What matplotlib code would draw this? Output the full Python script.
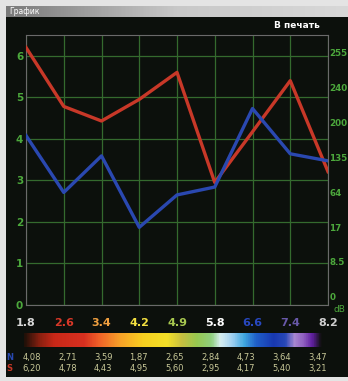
import matplotlib
matplotlib.use("Agg")
import matplotlib.pyplot as plt
import numpy as np
from matplotlib.colors import LinearSegmentedColormap
from matplotlib.patches import Rectangle

# data
x_labels = ["1.8", "2.6", "3.4", "4.2", "4.9", "5.8", "6.6", "7.4", "8.2"]
n_vals = [4.08, 2.71, 3.59, 1.87, 2.65, 2.84, 4.73, 3.64, 3.47]
s_vals = [6.20, 4.78, 4.43, 4.95, 5.60, 2.95, 4.17, 5.40, 3.21]
left_ticks = [0, 1, 2, 3, 4, 5, 6]
db_labels = ["0", "8.5", "17", "64", "135", "200", "240", "255"]

label_colors = ["#d8d8d8", "#d83828", "#f0a040", "#f4e040", "#a8c850",
                "#ffffff", "#2848c0", "#6858a8", "#d0d0d0"]

W, H = 348, 381
fig = plt.figure(figsize=(W / 100, H / 100), dpi=100, facecolor="#e4e4e4")

def box(x0, y0, x1, y1):
    # pixel box -> figure fraction [left, bottom, width, height]
    return [x0 / W, 1 - y1 / H, (x1 - x0) / W, (y1 - y0) / H]

# window frame
b = box(6, 17, 348, 377)
fig.patches.append(Rectangle((b[0], b[1]), b[2], b[3], transform=fig.transFigure,
                             facecolor="#0c100c", edgecolor="none", zorder=-10))
tb = fig.add_axes(box(6, 6, 348, 17))
tb.imshow(np.linspace(0, 1, 200)[None, :], aspect="auto",
          cmap=LinearSegmentedColormap.from_list("t", ["#7a7a7a", "#c8c8c8", "#d8d8d8"]))
tb.axis("off")
fig.text(9 / W, 1 - 12 / H, "График", color="white", fontsize=5.5, va="center")
fig.text(297 / W, 1 - 26 / H, "В печать", color="white", fontsize=6.5,
         fontweight="bold", va="center", ha="center")

# main plot
ax = fig.add_axes(box(26, 35, 328, 305))
ax.set_facecolor("#0c100c")
xs = np.arange(len(x_labels))
ax.plot(xs, s_vals, color="#c83828", lw=2.4, zorder=3)
ax.plot(xs, n_vals, color="#2a48b0", lw=2.4, zorder=3)
ax.set_xlim(0, 8)
ax.set_ylim(0, 6.5)
ax.set_xticks(xs)
ax.set_xticklabels(x_labels, fontsize=8, fontweight="bold")
for lab, c in zip(ax.get_xticklabels(), label_colors):
    lab.set_color(c)
ax.set_yticks(left_ticks)
ax.set_yticklabels([str(t) for t in left_ticks], color="#4ca83c", fontsize=7.5,
                   fontweight="bold")
ax.tick_params(axis="x", length=0, pad=9)
ax.tick_params(axis="y", length=0, pad=2)
ax.grid(True, color="#346a2e", lw=0.9)
for sp in ax.spines.values():
    sp.set_color("#6a6a6a")
    sp.set_linewidth(0.8)

ax2 = ax.twinx()
ax2.set_ylim(-0.23, 7.49)
ax2.set_yticks(range(len(db_labels)))
ax2.set_yticklabels(db_labels, color="#4ca83c", fontsize=6.3, fontweight="bold")
ax2.tick_params(axis="y", length=0, pad=1)
for sp in ax2.spines.values():
    sp.set_visible(False)
fig.text(334 / W, 1 - 309 / H, "dB", color="#4ca83c", fontsize=6.5, va="center")

# colour strip
cmap = LinearSegmentedColormap.from_list("strip", [
    (0.00, "#201008"), (0.05, "#8a2010"), (0.10, "#c82818"), (0.20, "#d83020"),
    (0.25, "#f06028"), (0.32, "#f8a028"), (0.40, "#f8d020"), (0.48, "#f4e028"),
    (0.53, "#c8c040"), (0.58, "#98c850"), (0.63, "#90d080"), (0.66, "#d8eef0"),
    (0.70, "#a0d0f0"), (0.74, "#40a8e0"), (0.78, "#2060c8"), (0.84, "#1838b0"),
    (0.88, "#2848b8"), (0.91, "#a888d0"), (0.94, "#9060c0"), (0.97, "#6020a0"),
    (1.00, "#101010")])
cb = fig.add_axes(box(24, 333, 322, 347))
cb.imshow(np.linspace(0, 1, 400)[None, :], aspect="auto", cmap=cmap)
cb.axis("off")

# value rows
tx = fig.add_axes(box(14, 350, 335, 376))
tx.set_xlim(-0.5, 8.5)
tx.set_ylim(0, 2)
tx.axis("off")
tx.text(-0.62, 1.45, "N", color="#2848b0", fontsize=6, fontweight="bold",
        va="center", ha="center")
tx.text(-0.62, 0.55, "S", color="#c83828", fontsize=6, fontweight="bold",
        va="center", ha="center")
for i in range(len(n_vals)):
    tx.text(i, 1.45, f"{n_vals[i]:.2f}".replace(".", ","), color="#c8c898",
            fontsize=6, va="center", ha="center")
    tx.text(i, 0.55, f"{s_vals[i]:.2f}".replace(".", ","), color="#c8c898",
            fontsize=6, va="center", ha="center")

fig.savefig("out.png", dpi=100, facecolor=fig.get_facecolor())
